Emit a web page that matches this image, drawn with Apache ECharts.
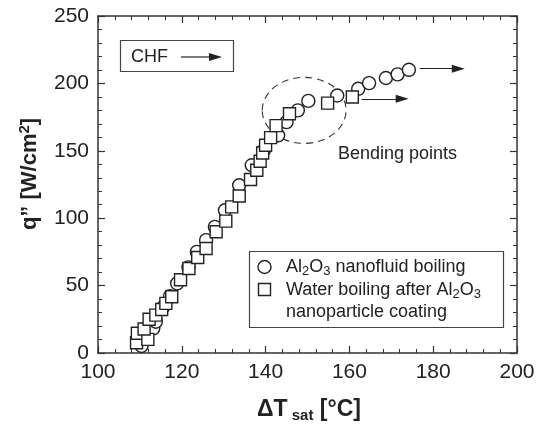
<!DOCTYPE html>
<html>
<head>
<meta charset="utf-8">
<title>Boiling curve</title>
<script src="https://cdn.jsdelivr.net/npm/echarts@6/dist/echarts.min.js"></script>
<style>
  html, body { margin: 0; padding: 0; background: #fff; }
  #chart { width: 544px; height: 424px; }
</style>
</head>
<body>
<div id="chart"></div>
<script>
// Al2O3 nanofluid boiling (circles)
var nanoDT = [110.4, 113.2, 113.8, 115.6, 117.2, 118.9, 121.6, 123.6, 125.8, 127.9, 130.3, 133.7,
  136.7, 139.6, 143.0, 145.0, 147.7, 150.2, 157.1, 162.1, 164.7, 168.7, 171.5, 174.2];
var nanoQ = [5.2, 18.3, 23.2, 34.3, 42.2, 51.6, 63.5, 75.0, 83.7, 93.6, 105.9, 124.4,
  139.3, 150.5, 161.5, 171.3, 180.0, 187.0, 191.0, 196.0, 200.2, 204.0, 206.7, 210.1];

// water boiling after Al2O3 nanoparticle coating (squares)
var coatDT = [109.2, 109.4, 111.9, 111.0, 112.2, 113.8, 115.2, 116.2, 117.6, 119.7, 121.7, 123.8,
  125.8, 128.2, 130.5, 131.9, 133.7, 136.4, 137.9, 138.7, 139.3, 140.0, 141.2, 142.5, 145.7, 154.8, 160.7];
var coatQ = [7.6, 14.6, 10.1, 17.8, 25.0, 28.1, 32.3, 36.8, 41.7, 54.3, 62.7, 70.9,
  77.5, 89.9, 97.8, 108.4, 116.5, 128.7, 135.6, 142.2, 148.4, 154.1, 159.8, 168.7, 177.5, 185.4, 189.9];

// axis ranges: [min, max, interval]
var xRange = [100, 200, 20];
var yRange = [0, 250, 50];

// CHF arrows [from dT, to dT, q]
var nanoArrow = [176.8, 186.0, 210.9];
var coatArrow = [162.9, 172.6, 188.6];

// dashed ellipse round the bending points [dT, q] and half sizes
var bendCenter = [149.2, 180];
var bendRadius = [10.0, 24.5];

var FONT = '"Liberation Sans", Arial, Helvetica, sans-serif';
var INK = '#222';

function pairs(xs, ys) {
  var out = [];
  for (var i = 0; i < xs.length; i++) {
    out.push([xs[i], ys[i]]);
  }
  return out;
}

function axisStyle(pos, range, minorSplit, showLabel) {
  return {
    type: 'value',
    position: pos,
    min: range[0],
    max: range[1],
    interval: range[2],
    axisLine: { show: true, onZero: false, lineStyle: { color: '#333', width: 1.5 } },
    axisTick: { show: true, inside: true, length: 7, lineStyle: { color: '#333', width: 1.2 } },
    minorTick: { show: true, splitNumber: minorSplit, length: 4, lineStyle: { color: '#333', width: 1 } },
    splitLine: { show: false },
    axisLabel: { show: showLabel, fontSize: 21, color: INK, fontFamily: FONT, margin: 9 }
  };
}

function arrowLine(a) {
  return {
    silent: true,
    symbol: ['none', 'triangle'],
    symbolSize: [8, 13],
    label: { show: false },
    lineStyle: { color: INK, width: 1.2, type: 'solid' },
    emphasis: { disabled: true },
    data: [[{ coord: [a[0], a[2]] }, { coord: [a[1], a[2]] }]]
  };
}

var myChart = echarts.init(document.getElementById('chart'), null, { renderer: 'canvas' });

var option = {
  animation: false,
  backgroundColor: '#fff',
  grid: { left: 98, right: 27, top: 16, bottom: 71 },
  xAxis: [
    axisStyle('bottom', xRange, 5, true),
    axisStyle('top', xRange, 5, false)
  ],
  yAxis: [
    axisStyle('left', yRange, 5, true),
    axisStyle('right', yRange, 5, false)
  ],
  series: [
    {
      type: 'scatter',
      name: 'nano',
      data: pairs(nanoDT, nanoQ),
      symbol: 'circle',
      symbolSize: 13,
      silent: true,
      itemStyle: { color: '#fff', borderColor: INK, borderWidth: 1.4, opacity: 1 },
      markLine: arrowLine(nanoArrow)
    },
    {
      type: 'scatter',
      name: 'coat',
      data: pairs(coatDT, coatQ),
      symbol: 'rect',
      symbolSize: 12,
      silent: true,
      itemStyle: { color: '#fff', borderColor: INK, borderWidth: 1.4, opacity: 1 },
      markLine: arrowLine(coatArrow)
    }
  ]
};
myChart.setOption(option);

// annotations that need pixel positions from the axes
var c = myChart.convertToPixel({ gridIndex: 0 }, bendCenter);
var e = myChart.convertToPixel({ gridIndex: 0 }, [bendCenter[0] + bendRadius[0], bendCenter[1] + bendRadius[1]]);

var subRich = {
  n: { fontSize: 18, lineHeight: 22, fontFamily: FONT, fill: INK },
  s: { fontSize: 13, lineHeight: 9, verticalAlign: 'bottom', fontFamily: FONT, fill: INK }
};

myChart.setOption({
  graphic: [
    // dashed ellipse
    {
      type: 'ellipse', silent: true,
      shape: { cx: c[0], cy: c[1], rx: Math.abs(e[0] - c[0]), ry: Math.abs(c[1] - e[1]) },
      style: { fill: 'none', stroke: '#333', lineWidth: 1.1, lineDash: [7, 5] }
    },
    {
      type: 'text', silent: true, x: 338, y: 154,
      style: { text: 'Bending points', fontSize: 18, fontFamily: FONT, fill: INK, verticalAlign: 'middle' }
    },
    // CHF box
    {
      type: 'rect', silent: true,
      shape: { x: 120.5, y: 40.5, width: 113, height: 31 },
      style: { fill: '#fff', stroke: '#444', lineWidth: 1.2 }
    },
    {
      type: 'text', silent: true, x: 131, y: 57,
      style: { text: 'CHF', fontSize: 18, fontFamily: FONT, fill: INK, verticalAlign: 'middle' }
    },
    {
      type: 'line', silent: true,
      shape: { x1: 181, y1: 57, x2: 212, y2: 57 },
      style: { stroke: INK, lineWidth: 1.2 }
    },
    {
      type: 'polygon', silent: true,
      shape: { points: [[209, 53], [222, 57], [209, 61]] },
      style: { fill: INK }
    },
    // legend
    {
      type: 'rect', silent: true,
      shape: { x: 249.5, y: 251.5, width: 254, height: 76 },
      style: { fill: '#fff', stroke: '#444', lineWidth: 1.2 }
    },
    {
      type: 'circle', silent: true,
      shape: { cx: 264.5, cy: 267, r: 6.5 },
      style: { fill: '#fff', stroke: INK, lineWidth: 1.4 }
    },
    {
      type: 'rect', silent: true,
      shape: { x: 258.5, y: 283.5, width: 12, height: 12 },
      style: { fill: '#fff', stroke: INK, lineWidth: 1.4 }
    },
    {
      type: 'text', silent: true, x: 286, y: 267,
      style: { text: '{n|Al}{s|2}{n|O}{s|3}{n| nanofluid boiling}', rich: subRich, verticalAlign: 'middle' }
    },
    {
      type: 'text', silent: true, x: 286, y: 290,
      style: { text: '{n|Water boiling after Al}{s|2}{n|O}{s|3}', rich: subRich, verticalAlign: 'middle' }
    },
    {
      type: 'text', silent: true, x: 286, y: 312,
      style: { text: 'nanoparticle coating', fontSize: 18, fontFamily: FONT, fill: INK, verticalAlign: 'middle' }
    },
    // axis titles
    {
      type: 'text', silent: true, x: 309, y: 410,
      style: {
        text: '{b|\u0394T}{s| sat}{b| [\u00b0C]}',
        align: 'center', verticalAlign: 'middle',
        rich: {
          b: { fontSize: 23, fontWeight: 'bold', lineHeight: 26, fontFamily: FONT, fill: INK },
          s: { fontSize: 15, fontWeight: 'bold', lineHeight: 12, verticalAlign: 'bottom', fontFamily: FONT, fill: INK }
        }
      }
    },
    {
      type: 'text', silent: true, x: 30, y: 174, rotation: Math.PI / 2,
      style: {
        text: '{b|q\u201d [W/cm}{p|2}{b|]}',
        align: 'center', verticalAlign: 'middle',
        rich: {
          b: { fontSize: 22, fontWeight: 'bold', lineHeight: 26, fontFamily: FONT, fill: INK },
          p: { fontSize: 15, fontWeight: 'bold', lineHeight: 14, verticalAlign: 'top', fontFamily: FONT, fill: INK }
        }
      }
    }
  ]
});
</script>
</body>
</html>
